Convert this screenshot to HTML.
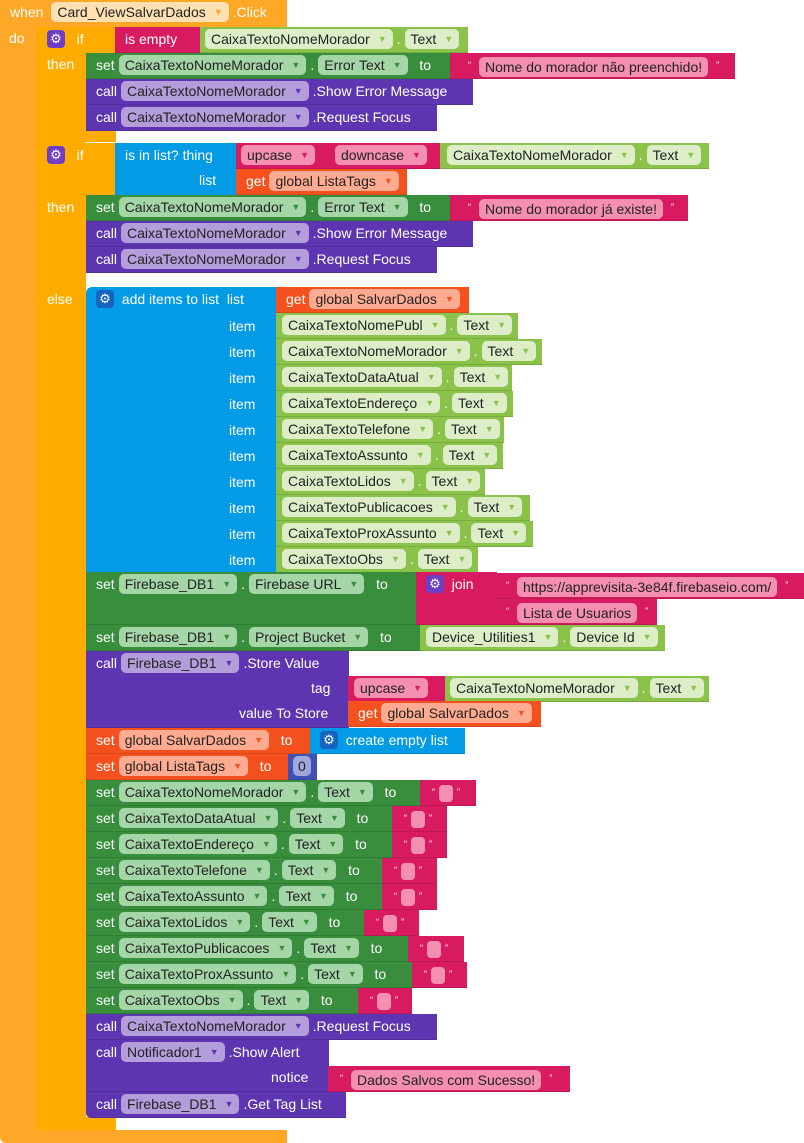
<!DOCTYPE html>
<html><head><meta charset="utf-8"><style>
body{margin:0;width:804px;height:1143px;background:#fff;position:relative;overflow:hidden;font-family:"Liberation Sans",Arial,sans-serif}
.b{position:absolute;box-sizing:border-box;color:#fff;font-size:14px;line-height:25px;white-space:nowrap;height:26px;padding-left:10px;border-bottom:1px solid rgba(0,0,0,.12)}
.p{display:inline-block;line-height:20px;border-radius:5px;padding:0 6px 0 6px;color:#222;vertical-align:middle;margin:-3px 4px 0 4px}
.p i{font-style:normal;font-size:9px;margin-left:8px;vertical-align:2px}
.g{background:#388e3c}.g .p{background:#a5d6a7}.g .p i{color:#388e3c}
.lg{background:#8bc34a}.lg .p{background:#dcedc8}.lg .p i{color:#8bc34a}
.pu{background:#5e35b1}.pu .p{background:#b39ddb}.pu .p i{color:#5e35b1}
.pk{background:#d81b60}.pk .p{background:#f48fb1}.pk .p i{color:#d81b60}
.or{background:#f4511e}.or .p{background:#ffab91}.or .p i{color:#f4511e}
.bl{background:#039be5}
.db{background:#3f51b5}.db .p{background:#9fa8da}
.ev{background:#ffa726}.ctl{background:#ffab00}
.gear{display:inline-block;width:18px;height:18px;line-height:18px;text-align:center;border-radius:4px;background:#6c3fc4;color:#fff;font-size:13px;vertical-align:middle;margin-top:-3px}
.bl .gear{background:#1565c0}
.q{font-size:9px;vertical-align:4px;margin:0 4px}
.e{display:inline-block;width:14px;height:17px;border-radius:4px;background:#f48fb1;vertical-align:middle;margin-top:-3px}
.lab{position:absolute;color:#fff;font-size:14px;line-height:25px}
</style></head><body>
<div class="b ev" style="left:0;top:0;width:287px;height:27px;padding-left:10px;border:none">when <span class="p" style="background:#ffe0b2">Card_ViewSalvarDados<i style="color:#ffa726">▼</i></span>.Click</div>
<div class="b ev" style="left:0;top:26px;width:37px;height:1110px;border:none;border-radius:0 0 0 6px"></div>
<div class="b ev" style="left:0;top:1130px;width:287px;height:13px;border:none;border-radius:0 0 0 6px"></div>
<div class="lab" style="left:9px;top:26px">do</div>
<div class="b ctl" style="left:36px;top:27px;width:80px;height:26px;border:none;border-radius:6px 0 0 0"></div>
<div class="b ctl" style="left:36px;top:27px;width:50px;height:117px;border:none"></div>
<div class="b ctl" style="left:36px;top:130px;width:80px;height:12px;border:none;border-radius:0 0 0 6px"></div>
<div class="lab" style="left:47px;top:27px"><span class="gear">⚙</span>&nbsp;&nbsp; if</div>
<div class="lab" style="left:47px;top:52px">then</div>
<div class="b pk" style="left:115px;top:27px;width:90px">is empty</div>
<div class="b lg" style="left:200px;top:27px;width:268px;padding-left:1px"><span class="p">CaixaTextoNomeMorador<i>▼</i></span>.<span class="p">Text<i>▼</i></span></div>
<div class="b g" style="left:86px;top:53px;width:366px">set<span class="p">CaixaTextoNomeMorador<i>▼</i></span>.<span class="p">Error Text<i>▼</i></span>&nbsp; to</div>
<div class="b pk" style="left:450px;top:53px;width:285px;padding-left:14px"><span class="q">“</span><span class="p">Nome do morador não preenchido!</span><span class="q">”</span></div>
<div class="b pu" style="left:86px;top:79px;width:387px">call<span class="p">CaixaTextoNomeMorador<i>▼</i></span>.Show Error Message</div>
<div class="b pu" style="left:86px;top:105px;width:351px">call<span class="p">CaixaTextoNomeMorador<i>▼</i></span>.Request Focus</div>
<div class="b ctl" style="left:36px;top:143px;width:80px;height:52px;border:none;border-radius:6px 0 0 0"></div>
<div class="b ctl" style="left:36px;top:143px;width:50px;height:987px;border:none"></div>
<div class="b ctl" style="left:36px;top:1117px;width:80px;height:13px;border:none;border-radius:0 0 0 6px"></div>
<div class="lab" style="left:47px;top:143px"><span class="gear">⚙</span>&nbsp;&nbsp; if</div>
<div class="lab" style="left:47px;top:195px">then</div>
<div class="lab" style="left:47px;top:287px">else</div>
<div class="b bl" style="left:115px;top:143px;width:122px;height:52px;border:none">is in list? thing<br><span style="padding-left:74px">list</span></div>
<div class="b pk" style="left:236px;top:143px;width:95px;padding-left:1px"><span class="p">upcase<i>▼</i></span></div>
<div class="b pk" style="left:330px;top:143px;width:111px;padding-left:1px"><span class="p">downcase<i>▼</i></span></div>
<div class="b lg" style="left:440px;top:143px;width:269px;padding-left:3px"><span class="p">CaixaTextoNomeMorador<i>▼</i></span>.<span class="p">Text<i>▼</i></span></div>
<div class="b or" style="left:236px;top:169px;width:171px">get<span class="p">global ListaTags<i>▼</i></span></div>
<div class="b g" style="left:86px;top:195px;width:366px">set<span class="p">CaixaTextoNomeMorador<i>▼</i></span>.<span class="p">Error Text<i>▼</i></span>&nbsp; to</div>
<div class="b pk" style="left:450px;top:195px;width:238px;padding-left:14px"><span class="q">“</span><span class="p">Nome do morador já existe!</span><span class="q">”</span></div>
<div class="b pu" style="left:86px;top:221px;width:387px">call<span class="p">CaixaTextoNomeMorador<i>▼</i></span>.Show Error Message</div>
<div class="b pu" style="left:86px;top:247px;width:351px">call<span class="p">CaixaTextoNomeMorador<i>▼</i></span>.Request Focus</div>
<div class="b bl" style="left:86px;top:287px;width:191px;height:286px;border:none;border-radius:6px 0 0 0"><span class="gear">⚙</span>&nbsp; add items to list &nbsp;list</div>
<div class="lab" style="left:229px;top:313px;line-height:26px">item<br>item<br>item<br>item<br>item<br>item<br>item<br>item<br>item<br>item</div>
<div class="b or" style="left:276px;top:287px;width:193px">get<span class="p">global SalvarDados<i>▼</i></span></div>
<div class="b lg" style="left:276px;top:313px;width:242px;padding-left:2px"><span class="p">CaixaTextoNomePubl<i>▼</i></span>.<span class="p">Text<i>▼</i></span></div>
<div class="b lg" style="left:276px;top:339px;width:266px;padding-left:2px"><span class="p">CaixaTextoNomeMorador<i>▼</i></span>.<span class="p">Text<i>▼</i></span></div>
<div class="b lg" style="left:276px;top:365px;width:236px;padding-left:2px"><span class="p">CaixaTextoDataAtual<i>▼</i></span>.<span class="p">Text<i>▼</i></span></div>
<div class="b lg" style="left:276px;top:391px;width:237px;padding-left:2px"><span class="p">CaixaTextoEndereço<i>▼</i></span>.<span class="p">Text<i>▼</i></span></div>
<div class="b lg" style="left:276px;top:417px;width:228px;padding-left:2px"><span class="p">CaixaTextoTelefone<i>▼</i></span>.<span class="p">Text<i>▼</i></span></div>
<div class="b lg" style="left:276px;top:443px;width:227px;padding-left:2px"><span class="p">CaixaTextoAssunto<i>▼</i></span>.<span class="p">Text<i>▼</i></span></div>
<div class="b lg" style="left:276px;top:469px;width:209px;padding-left:2px"><span class="p">CaixaTextoLidos<i>▼</i></span>.<span class="p">Text<i>▼</i></span></div>
<div class="b lg" style="left:276px;top:495px;width:254px;padding-left:2px"><span class="p">CaixaTextoPublicacoes<i>▼</i></span>.<span class="p">Text<i>▼</i></span></div>
<div class="b lg" style="left:276px;top:521px;width:257px;padding-left:2px"><span class="p">CaixaTextoProxAssunto<i>▼</i></span>.<span class="p">Text<i>▼</i></span></div>
<div class="b lg" style="left:276px;top:547px;width:202px;padding-left:2px"><span class="p">CaixaTextoObs<i>▼</i></span>.<span class="p">Text<i>▼</i></span></div>
<div class="b g" style="left:86px;top:572px;width:331px;height:53px">set<span class="p">Firebase_DB1<i>▼</i></span>.<span class="p">Firebase URL<i>▼</i></span>&nbsp; to</div>
<div class="b pk" style="left:416px;top:572px;width:81px;height:53px"><span class="gear">⚙</span>&nbsp; join</div>
<div class="b pk" style="left:496px;top:573px;width:308px;padding-left:6px"><span class="q">“</span><span class="p">https://apprevisita-3e84f.firebaseio.com/</span><span class="q">”</span></div>
<div class="b pk" style="left:496px;top:599px;width:161px;padding-left:6px"><span class="q">“</span><span class="p">Lista de Usuarios</span><span class="q">”</span></div>
<div class="b g" style="left:86px;top:625px;width:336px">set<span class="p">Firebase_DB1<i>▼</i></span>.<span class="p">Project Bucket<i>▼</i></span>&nbsp; to</div>
<div class="b lg" style="left:420px;top:625px;width:245px;padding-left:2px"><span class="p">Device_Utilities1<i>▼</i></span>.<span class="p">Device Id<i>▼</i></span></div>
<div class="b pu" style="left:86px;top:651px;width:263px;height:77px">call<span class="p">Firebase_DB1<i>▼</i></span>.Store Value<br><span style="padding-left:215px">tag</span><br><span style="padding-left:143px">value To Store</span></div>
<div class="b pk" style="left:348px;top:676px;width:98px;padding-left:2px"><span class="p">upcase<i>▼</i></span></div>
<div class="b lg" style="left:445px;top:676px;width:264px;padding-left:1px"><span class="p">CaixaTextoNomeMorador<i>▼</i></span>.<span class="p">Text<i>▼</i></span></div>
<div class="b or" style="left:348px;top:701px;width:193px">get<span class="p">global SalvarDados<i>▼</i></span></div>
<div class="b or" style="left:86px;top:728px;width:225px">set<span class="p">global SalvarDados<i>▼</i></span>&nbsp; to</div>
<div class="b bl" style="left:310px;top:728px;width:155px"><span class="gear">⚙</span>&nbsp; create empty list</div>
<div class="b or" style="left:86px;top:754px;width:203px">set<span class="p">global ListaTags<i>▼</i></span>&nbsp; to</div>
<div class="b db" style="left:288px;top:754px;width:29px;padding-left:1px"><span class="p" style="padding:0 5px">0</span></div>
<div class="b g" style="left:86px;top:780px;width:336px">set<span class="p">CaixaTextoNomeMorador<i>▼</i></span>.<span class="p">Text<i>▼</i></span>&nbsp; to</div>
<div class="b pk" style="left:420px;top:780px;width:56px;padding-left:8px"><span class="q">“</span><span class="e"></span><span class="q">”</span></div>
<div class="b g" style="left:86px;top:806px;width:308px">set<span class="p">CaixaTextoDataAtual<i>▼</i></span>.<span class="p">Text<i>▼</i></span>&nbsp; to</div>
<div class="b pk" style="left:392px;top:806px;width:55px;padding-left:8px"><span class="q">“</span><span class="e"></span><span class="q">”</span></div>
<div class="b g" style="left:86px;top:832px;width:308px">set<span class="p">CaixaTextoEndereço<i>▼</i></span>.<span class="p">Text<i>▼</i></span>&nbsp; to</div>
<div class="b pk" style="left:392px;top:832px;width:55px;padding-left:8px"><span class="q">“</span><span class="e"></span><span class="q">”</span></div>
<div class="b g" style="left:86px;top:858px;width:296px">set<span class="p">CaixaTextoTelefone<i>▼</i></span>.<span class="p">Text<i>▼</i></span>&nbsp; to</div>
<div class="b pk" style="left:382px;top:858px;width:55px;padding-left:8px"><span class="q">“</span><span class="e"></span><span class="q">”</span></div>
<div class="b g" style="left:86px;top:884px;width:296px">set<span class="p">CaixaTextoAssunto<i>▼</i></span>.<span class="p">Text<i>▼</i></span>&nbsp; to</div>
<div class="b pk" style="left:382px;top:884px;width:55px;padding-left:8px"><span class="q">“</span><span class="e"></span><span class="q">”</span></div>
<div class="b g" style="left:86px;top:910px;width:278px">set<span class="p">CaixaTextoLidos<i>▼</i></span>.<span class="p">Text<i>▼</i></span>&nbsp; to</div>
<div class="b pk" style="left:364px;top:910px;width:55px;padding-left:8px"><span class="q">“</span><span class="e"></span><span class="q">”</span></div>
<div class="b g" style="left:86px;top:936px;width:322px">set<span class="p">CaixaTextoPublicacoes<i>▼</i></span>.<span class="p">Text<i>▼</i></span>&nbsp; to</div>
<div class="b pk" style="left:408px;top:936px;width:56px;padding-left:8px"><span class="q">“</span><span class="e"></span><span class="q">”</span></div>
<div class="b g" style="left:86px;top:962px;width:326px">set<span class="p">CaixaTextoProxAssunto<i>▼</i></span>.<span class="p">Text<i>▼</i></span>&nbsp; to</div>
<div class="b pk" style="left:412px;top:962px;width:55px;padding-left:8px"><span class="q">“</span><span class="e"></span><span class="q">”</span></div>
<div class="b g" style="left:86px;top:988px;width:272px">set<span class="p">CaixaTextoObs<i>▼</i></span>.<span class="p">Text<i>▼</i></span>&nbsp; to</div>
<div class="b pk" style="left:358px;top:988px;width:54px;padding-left:8px"><span class="q">“</span><span class="e"></span><span class="q">”</span></div>
<div class="b pu" style="left:86px;top:1014px;width:351px">call<span class="p">CaixaTextoNomeMorador<i>▼</i></span>.Request Focus</div>
<div class="b pu" style="left:86px;top:1040px;width:243px;height:52px">call<span class="p">Notificador1<i>▼</i></span>.Show Alert<br><span style="padding-left:175px">notice</span></div>
<div class="b pk" style="left:328px;top:1066px;width:242px;padding-left:8px"><span class="q">“</span><span class="p">Dados Salvos com Sucesso!</span><span class="q">”</span></div>
<div class="b pu" style="left:86px;top:1092px;width:260px;border-radius:0 0 0 5px">call<span class="p">Firebase_DB1<i>▼</i></span>.Get Tag List</div>
</body></html>
